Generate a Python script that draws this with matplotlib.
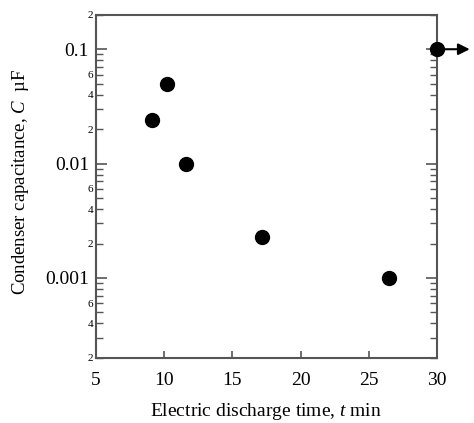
import matplotlib
matplotlib.use('Agg')
import matplotlib.pyplot as plt
from matplotlib.ticker import LogLocator, FuncFormatter, FixedLocator

# Data
discharge_time = [9.1, 10.2, 11.6, 17.2, 26.5, 30.0]
capacitance = [0.024, 0.05, 0.01, 0.0023, 0.001, 0.1]

plt.rcParams['font.family'] = ['Liberation Serif', 'DejaVu Serif']
plt.rcParams['mathtext.fontset'] = 'custom'
plt.rcParams['mathtext.rm'] = 'Liberation Serif'
plt.rcParams['mathtext.it'] = 'Liberation Serif:italic'

fig = plt.figure(figsize=(4.74, 4.23), dpi=100)
ax = fig.add_axes([0.2025, 0.154, 0.7195, 0.811])

ax.plot(discharge_time, capacitance, 'o', color='black', markersize=10, clip_on=False, zorder=5)

# arrow from the last point pointing outside the plot
ax.annotate('', xy=(32.6, capacitance[-1]), xytext=(discharge_time[-1], capacitance[-1]),
            arrowprops=dict(arrowstyle='-|>', color='black', lw=1.5, mutation_scale=17),
            annotation_clip=False)

ax.set_yscale('log')
ax.set_xlim(5, 30)
ax.set_ylim(0.0002, 0.2)

ax.yaxis.set_major_locator(FixedLocator([0.001, 0.01, 0.1]))
ax.yaxis.set_major_formatter(FuncFormatter(lambda v, p: f'{v:g}'))
ax.yaxis.set_minor_locator(LogLocator(base=10, subs=range(2, 10), numticks=20))


def minor_fmt(v, p):
    m = round(v / 10 ** int(f'{v:e}'.split('e')[1]))
    return str(m) if m in (2, 4, 6) else ''


ax.yaxis.set_minor_formatter(FuncFormatter(minor_fmt))
ax.set_xticks([5, 10, 15, 20, 25, 30])

spine_col = '#555555'
for s in ax.spines.values():
    s.set_color(spine_col)
    s.set_linewidth(1.5)

ax.tick_params(axis='y', which='major', direction='in', length=8, width=1.2, color=spine_col,
               labelsize=14, right=True, pad=5)
ax.tick_params(axis='y', which='minor', direction='in', length=5, width=1.0, color=spine_col,
               labelsize=8, right=True, pad=2)
ax.tick_params(axis='x', which='major', direction='in', length=5, width=1.2, color=spine_col,
               labelsize=14, pad=10)
ax.tick_params(axis='x', which='minor', bottom=False)

fig.text(266 / 474, 1 - 411 / 423, 'Electric discharge time, $t$ min', fontsize=14,
         ha='center', va='center')
fig.text(21 / 474, 1 - 182 / 423, 'Condenser capacitance, $C$  \u00b5F', fontsize=13.5,
         ha='center', va='center', rotation=90)

fig.savefig('out.png', dpi=100)
